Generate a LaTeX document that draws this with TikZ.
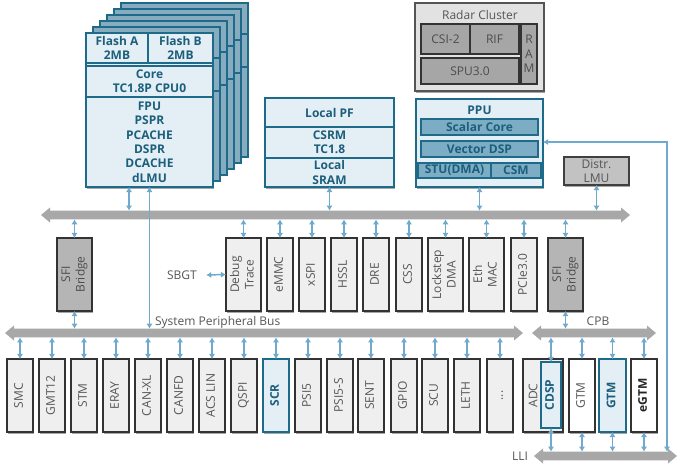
\documentclass[tikz,border=0pt]{standalone}
\usepackage{fontspec}
\setmainfont{Open Sans}
\usetikzlibrary{arrows.meta,shadows}
\definecolor{tl}{HTML}{1D6A89}
\definecolor{tlt}{HTML}{1B5F7C}
\definecolor{lb}{HTML}{E4EFF5}
\definecolor{mb}{HTML}{7DADC5}
\definecolor{bk}{HTML}{88ACBF}
\definecolor{ac}{HTML}{6FA9CB}
\definecolor{busc}{HTML}{A8A8A8}
\definecolor{gl}{HTML}{EFEFEF}
\definecolor{gd}{HTML}{333333}
\definecolor{tg}{HTML}{555555}
\definecolor{gs}{HTML}{B5B5B5}
\definecolor{rout}{HTML}{E2E2E2}
\definecolor{rin}{HTML}{A6A6A6}
\newcommand\ff{\fontsize{9}{10.8}\selectfont}
\newcommand\rt[1]{\rotatebox{90}{\begin{tabular}{@{}c@{}}#1\end{tabular}}}
\newcommand\bx[7]{\node[#6, anchor=north west, minimum width={(#4-(#2))*0.75pt}, minimum height={(#5-(#3))*0.75pt}] (#1) at (#2,#3) {#7};}
\newcommand\hbus[3]{\fill[busc] (#1,#3) -- ++(9,-7.5) -- ++(0,3.2) -- ({#2-9},{#3-4.3}) -- ++(0,-3.2) -- (#2,#3) -- ({#2-9},{#3+7.5}) -- ++(0,-3.2) -- ({#1+9},{#3+4.3}) -- ++(0,3.2) -- cycle;}
\begin{document}
\begin{tikzpicture}[x=0.75pt,y=-0.75pt,
 every node/.style={inner sep=0pt, outer sep=0pt, font=\ff},
 shd/.style={drop shadow={shadow xshift=1pt,shadow yshift=-1.2pt,opacity=0.35,fill=black}},
 cpub/.style={draw=tl, line width=1.1pt, fill=lb, text=tlt, font=\ff\bfseries, align=center},
 back/.style={draw=tl, line width=0.9pt, fill=bk},
 sub/.style={draw=tl, line width=1.1pt, fill=mb, text=tlt, font=\ff\bfseries, align=center},
 gbox/.style={draw=gd, line width=1.1pt, fill=gl, text=tg, align=center, shd},
 sfi/.style={gbox, fill=gs, text=black!70},
 wbox/.style={gbox, fill=white},
 hbox/.style={draw=tl, line width=1.1pt, fill=lb, text=tlt, font=\ff\bfseries, shd},
 ebox/.style={gbox, fill=white, text=black!85, font=\ff\bfseries},
 rbox/.style={draw=gd, line width=1.1pt, fill=rin, text=black!70, align=center},
 conn/.style={draw=ac, line width=1.1pt, {Latex[length=3.8pt,width=4.6pt]}-{Latex[length=3.8pt,width=4.6pt]}},
 lbl/.style={text=tg}]
\useasboundingbox (0,0) rectangle (681,465);
% buses
\hbus{41}{630}{215}
\hbus{5}{523}{333}
\hbus{532}{656}{333}
\hbus{534}{677}{456}
\coordinate (tbT) at (0,210.7);
\coordinate (tbB) at (0,219.3);
\coordinate (spbT) at (0,328.7);
\coordinate (spbB) at (0,337.3);
\coordinate (lliT) at (0,451.7);
% CPU stack
\foreach \k in {5,4,3,2,1} {
  \path[back] ({86+7*\k},{33-6*\k}) rectangle ({213+7*\k},{187-6*\k});
  \draw[tl, line width=0.8pt] ({86+7*\k},{64-6*\k}) -- ++(127,0);
  \draw[tl, line width=0.8pt] ({86+7*\k},{97-6*\k}) -- ++(127,0);
}
\bx{cpu}{86}{33}{213}{187}{cpub,shd}{}
\bx{flA}{86}{33}{148}{63}{cpub}{Flash A\\2MB}
\bx{flB}{148}{33}{213}{63}{cpub}{Flash B\\2MB}
\bx{core}{86}{66}{213}{97}{cpub}{Core\\TC1.8P CPU0}
\bx{cpul}{86}{97}{213}{187}{cpub}{FPU\\PSPR\\PCACHE\\DSPR\\DCACHE\\dLMU}
% Local PF
\bx{lpfall}{265}{98}{394}{187}{cpub,shd}{}
\bx{lpf}{265}{98}{394}{127}{cpub}{Local PF}
\bx{csrm}{265}{127}{394}{158}{cpub}{CSRM\\TC1.8}
\bx{lsram}{265}{158}{394}{187}{cpub}{Local\\SRAM}
% Radar cluster
\bx{radar}{415}{3}{544}{91}{draw=tg, line width=1.1pt, fill=rout, shd}{}
\node[lbl] (rtitle) at (480,15) {Radar Cluster};
\bx{csi}{421}{24}{470}{54}{rbox}{CSI-2}
\bx{rif}{470}{24}{519}{54}{rbox}{RIF}
\bx{spu}{421}{58}{519}{84}{rbox}{SPU3.0}
\bx{ram}{521}{24}{537}{84}{rbox}{R\\A\\M}
% PPU
\bx{ppu}{416}{99}{543}{187}{cpub,shd}{}
\node[text=tlt, font=\ff\bfseries] (ppulbl) at (479.5,110) {PPU};
\bx{scal}{421}{119}{538}{135}{sub}{Scalar Core}
\bx{vdsp}{421}{141}{538}{157}{sub}{Vector DSP}
\bx{stu}{418}{163}{491}{178}{sub}{STU(DMA)}
\bx{csm}{491}{163}{541}{178}{sub}{CSM}
% Distr LMU
\bx{lmu}{564}{157}{629}{185}{gbox, fill=black!24, draw=black!75}{Distr.\\LMU}
% arrows top
\coordinate (c1) at (129,0);
\draw[conn] (cpu.south -| c1) -- (tbT -| c1);
\draw[conn] (cpu.south) -- (cpu.south |- spbT);
\draw[conn] (lsram.south) -- (lsram.south |- tbT);
\draw[conn] (ppu.south) -- (ppu.south |- tbT);
\draw[conn] (lmu.south) -- (lmu.south |- tbT);
\coordinate (rv) at (667,142);
\draw[conn] (ppu.east |- rv) -- (rv) -- (rv |- lliT);
% middle row
\bx{sfiL}{57}{238}{92}{311}{sfi}{\rt{SFI\\Bridge}}
\bx{sfiR}{548}{238}{583}{311}{sfi}{\rt{SFI\\Bridge}}
\foreach \n/\xa/\xb/\t in {debug/226/261/{Debug\\Trace}, emmc/267/293/eMMC, xspi/299/325/xSPI, hssl/331/357/HSSL, dre/363/389/DRE, css/396/422/CSS, lock/428/463/{Lockstep\\DMA}, eth/469/504/{Eth\\MAC}, pcie/511/537/PCIe3.0} {
  \bx{\n}{\xa}{238}{\xb}{311}{gbox}{\rt{\t}}
  \draw[conn] (\n.north) -- (\n.north |- tbB);
}
\draw[conn] (sfiL.north) -- (sfiL.north |- tbB);
\draw[conn] (sfiL.south) -- (sfiL.south |- spbT);
\draw[conn] (sfiR.north) -- (sfiR.north |- tbB);
\draw[conn] (sfiR.south) -- (sfiR.south |- spbT);
\node[lbl] (sbgt) at (182,275) {SBGT};
\draw[conn] ([xshift=7pt]sbgt.east) -- (debug.west);
\node[lbl, anchor=west] (spbl) at (155,322) {System Peripheral Bus};
\node[lbl] (cpbl) at (598,321) {CPB};
\node[lbl] (llil) at (520,456) {LLI};
% bottom row
\foreach \n/\xa/\t in {smc/7/SMC, gmt/39/GMT12, stm/71/STM, eray/103/ERAY, canxl/135/CAN-XL, canfd/167/CANFD, acs/199/ACS LIN, qspi/231/QSPI, psi5/295/PSI5, psi5s/327/PSI5-S, sent/358/SENT, gpio/391/GPIO, scu/422/SCU, leth/454/LETH} {
  \bx{\n}{\xa}{359}{\xa+26}{432}{gbox}{\rt{\t}}
  \draw[conn] (\n.north) -- (\n.north |- spbB);
}
\bx{dots}{487}{359}{513}{432}{gbox}{\rt{...}}
\draw[conn] (dots.north) -- (dots.north |- spbB);
\bx{scr}{263}{359}{289}{432}{hbox}{\rt{SCR}}
\draw[conn] (scr.north) -- (scr.north |- spbB);
\bx{adc}{523}{359}{563}{432}{gbox}{}
\node[lbl, rotate=90] (adct) at (533,395.5) {ADC};
\bx{cdsp}{541}{362}{561}{428}{draw=tl, line width=1.1pt, fill=lb, text=tlt, font=\ff\bfseries}{\rt{CDSP}}
\bx{gtm}{569}{359}{595}{432}{wbox}{\rt{GTM}}
\bx{gtmb}{599}{359}{626}{432}{hbox}{\rt{GTM}}
\bx{egtm}{631}{359}{657}{432}{ebox}{\rt{eGTM}}
\foreach \n in {cdsp,gtm,gtmb,egtm} {
  \draw[conn] (\n.north) -- (\n.north |- spbB);
  \draw[conn] (\n.south) -- (\n.south |- lliT);
}
\end{tikzpicture}
\end{document}
